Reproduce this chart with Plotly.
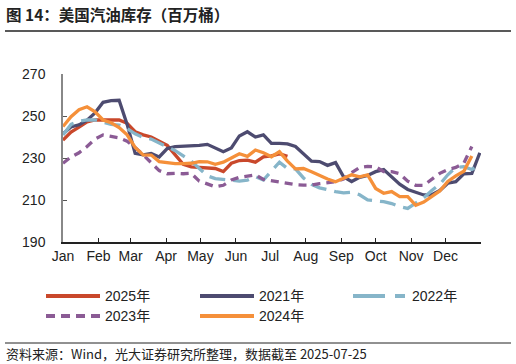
import plotly.graph_objects as go

# ---------------- data (weekly, millions of barrels) ----------------
months = ["Jan", "Feb", "Mar", "Apr", "May", "Jun", "Jul", "Aug", "Sep", "Oct", "Nov", "Dec", ""]
month_start_day = [0, 31, 59, 90, 120, 151, 181, 212, 243, 273, 304, 334, 365]

y2025 = [238.5, 242.3, 244.7, 247.2, 248.1, 248.1, 248.1, 248.1, 246.5, 242.5,
         241.0, 240.0, 238.0, 236.0, 231.5, 227.0, 225.8, 225.5, 225.2, 225.0,
         223.5, 227.5, 228.8, 229.0, 228.0, 230.5, 231.0, 232.0, 230.8]

y2021 = [241.5, 244.8, 245.8, 248.0, 251.5, 256.5, 257.3, 257.5, 246.0, 232.2,
         231.5, 232.2, 230.5, 234.5, 235.4, 235.5, 235.7, 236.0, 236.5, 234.8,
         233.0, 234.8, 240.5, 242.5, 240.0, 241.0, 237.0, 237.0, 236.7, 235.5,
         232.0, 228.5, 228.3, 226.5, 227.8, 221.0, 218.8, 220.8, 221.7, 223.5,
         224.5, 221.0, 217.5, 215.0, 213.5, 212.4, 212.5, 214.5, 218.0, 218.7,
         222.5, 222.7, 232.5]

y2022 = [241.0, 246.0, 247.5, 248.2, 248.1, 247.0, 246.0, 245.7, 244.0, 241.5,
         239.8, 239.0, 237.3, 235.5, 233.5, 231.0, 228.5, 225.0, 221.5, 220.2,
         219.8, 219.4, 219.0, 219.5, 221.1, 219.5, 224.0, 228.0, 225.0, 224.8,
         220.5, 217.5, 215.8, 214.8, 214.0, 213.4, 213.7, 212.5, 210.0, 209.6,
         209.2, 208.3, 206.8, 206.0, 208.3, 211.0, 214.5, 217.5, 222.0, 225.5,
         225.9, 224.5, 226.7]

y2023 = [227.5, 230.5, 232.5, 235.5, 239.0, 241.0, 240.3, 239.6, 238.0, 235.0,
         231.5, 228.0, 224.0, 222.5, 222.7, 222.5, 222.7, 219.0, 217.5, 216.3,
         217.0, 219.5, 220.8, 221.5, 222.0, 219.8, 219.2, 218.7, 218.0, 217.3,
         217.1, 217.1, 217.8, 218.3, 218.7, 220.0, 223.0, 225.5, 226.0, 225.8,
         223.5, 223.5, 222.5, 219.0, 217.0, 217.0, 220.0, 222.7, 224.5, 225.5,
         227.5, 235.5]

y2024 = [245.0, 249.7, 253.0, 254.4, 252.0, 248.1, 246.8, 244.5, 241.0, 235.0,
         231.5, 231.4, 228.3, 227.8, 227.3, 227.3, 227.5, 228.3, 228.2, 227.0,
         228.0, 230.0, 232.0, 230.8, 233.8, 232.5, 230.6, 233.0, 228.5, 224.8,
         225.0, 223.5, 221.7, 220.0, 218.7, 220.3, 222.0, 221.0, 222.0, 215.5,
         213.2, 214.0, 211.6, 211.6, 207.5, 209.0, 211.5, 214.3, 218.8, 221.5,
         223.7, 231.0]

series_names = ["2025年", "2021年", "2022年", "2023年", "2024年"]
series_values = [y2025, y2021, y2022, y2023, y2024]
series_colors = ["#c9482b", "#4d4b70", "#86b5c9", "#8b5b95", "#f5903a"]
series_dash = ["solid", "solid", "16px,8px", "8px,6px", "solid"]

FONT = "Liberation Sans, Arial, Noto Sans CJK SC, sans-serif"

# plot-area geometry in pixels (for paper-coordinate helpers)
L, R, T, B, W, H = 63, 35, 74, 122, 516, 364
PW, PH = W - L - R, H - T - B


def px(x):
    return (x - L) / PW


def py(y):
    return (H - B - y) / PH


fig = go.Figure()
for name, ys, color, dash in zip(series_names, series_values, series_colors, series_dash):
    xs = [7 * i for i in range(len(ys))]
    fig.add_trace(go.Scatter(
        x=xs, y=ys, mode="lines", name=name, showlegend=False,
        line=dict(color=color, width=3.3, dash=dash),
    ))

fig.update_layout(
    width=W, height=H,
    margin=dict(l=L, r=R, t=T, b=B, autoexpand=False),
    paper_bgcolor="white", plot_bgcolor="white",
    font=dict(family=FONT, size=14, color="#222"),
    showlegend=False,
    xaxis=dict(
        range=[0, 365], tickmode="array", tickvals=month_start_day, ticktext=months,
        showgrid=False, zeroline=False, showline=True, linecolor="#222", linewidth=1.5,
        ticks="inside", ticklen=4, tickcolor="#222", tickwidth=1.2,
        tickfont=dict(family=FONT, size=14, color="#222"),
    ),
    yaxis=dict(
        range=[190, 270], tickmode="array", tickvals=[190, 210, 230, 250, 270],
        showgrid=False, zeroline=False, showline=True, linecolor="#888", linewidth=1.5,
        ticks="inside", ticklen=4, tickcolor="#555", tickwidth=1.2,
        tickfont=dict(family=FONT, size=14, color="#222"),
        ticklabelstandoff=13,
    ),
)

# manual legend (3 columns)
legend_pos = [(46, 296), (200, 296), (353, 296), (46, 316), (200, 316)]
for (lx, ly), name, color, dash in zip(legend_pos, series_names, series_colors, series_dash):
    if dash == "16px,8px":
        kd = "32px,10px,10px,10px"
    elif dash == "8px,6px":
        kd = "9px,6px"
    else:
        kd = "solid"
    fig.add_shape(type="line", xref="paper", yref="paper",
                  x0=px(lx), x1=px(lx + 54), y0=py(ly), y1=py(ly),
                  line=dict(color=color, width=4, dash=kd))
    fig.add_annotation(text=name, xref="paper", yref="paper", x=px(lx + 57), y=py(ly),
                       xanchor="left", yanchor="middle", showarrow=False,
                       font=dict(family=FONT, size=14, color="#222"))

# title, rules and source note
fig.add_annotation(text="<b>图 14：美国汽油库存（百万桶）</b>", xref="paper", yref="paper",
                   x=px(4), y=py(14), xanchor="left", yanchor="middle", showarrow=False,
                   font=dict(family="Noto Sans CJK SC", size=15.5, color="#222"))
fig.add_shape(type="line", xref="paper", yref="paper",
              x0=px(5), x1=px(511), y0=py(31), y1=py(31),
              line=dict(color="#222", width=1.3))
fig.add_shape(type="line", xref="paper", yref="paper",
              x0=px(5), x1=px(511), y0=py(343), y1=py(343),
              line=dict(color="#222", width=1))
fig.add_annotation(text="资料来源：Wind，光大证券研究所整理，数据截至 2025-07-25", xref="paper", yref="paper",
                   x=px(4), y=py(353), xanchor="left", yanchor="middle", showarrow=False,
                   font=dict(family="Noto Sans CJK SC", size=13, color="#222"))

fig.write_html("out.html", config={"displayModeBar": False},
               post_script="document.body.style.margin='0';document.body.style.overflow='hidden';")
